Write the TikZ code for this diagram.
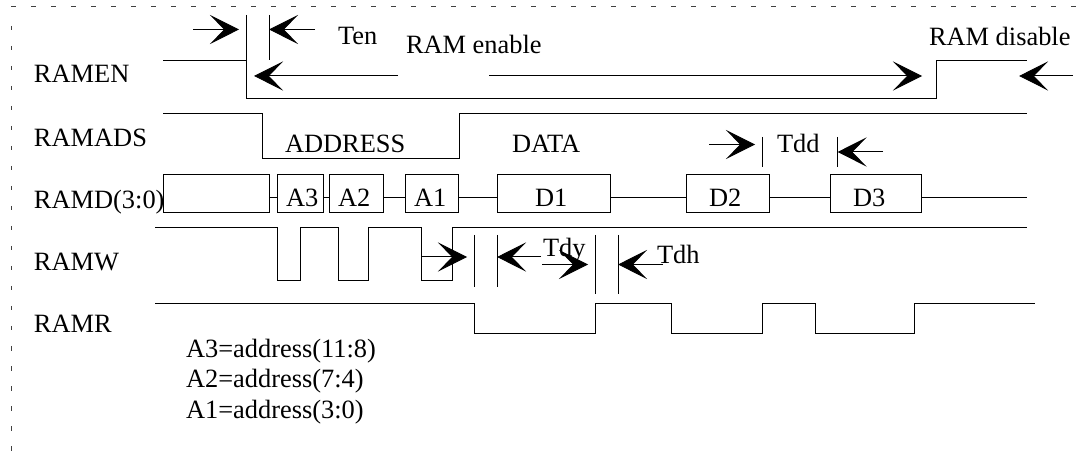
\documentclass[tikz,border=0pt]{standalone}
\usepackage{fontspec}
\setmainfont{Liberation Serif}
\usetikzlibrary{arrows.meta}
\tikzset{
  x=1pt,y=-1pt,
  wave/.style={line width=1pt,draw=black,line join=miter},
  tick/.style={line width=1pt,draw=black},
  dim/.style={line width=1pt,draw=black,-{Stealth[length=29pt,width=29pt,inset=14pt,black]}},
  lab/.style={anchor=base west,inner sep=0pt,outer sep=0pt,font=\fontsize{26.4}{30}\selectfont,text=black},
  busbox/.style={draw=black,line width=1pt,inner sep=0pt,outer sep=0pt,minimum height=38pt,anchor=west},
  busline/.style={draw=black,line width=1pt},
  frame/.style={line width=1pt,draw=black!75,dash pattern=on 4.5pt off 15.5pt},
}
\begin{document}
\begin{tikzpicture}
\useasboundingbox (0,0) rectangle (1088,457);
% dashed frame
\draw[frame] (11,7) -- (1088,7);
\draw[frame] (11,26) -- (11,457);
% labels
\node[lab] (t1) at (34,83) {RAMEN};
\node[lab] (t2) at (34,147) {RAMADS};
\node[lab] (t3) at (34,209) {RAMD(3:0)};
\node[lab] (t4) at (34,271) {RAMW};
\node[lab] (t5) at (34,333) {RAMR};
\node[lab] (t6) at (338,45) {Ten};
\node[lab] (t7) at (406,54) {RAM enable};
\node[lab] (t8) at (929,46) {RAM disable};
\node[lab] (t9) at (285,153) {ADDRESS};
\node[lab] (t10) at (512,153) {DATA};
\node[lab] (t11) at (777,153) {Tdd};
\node[lab] (t12) at (543,257) {Tdy};
\node[lab] (t13) at (657,264) {Tdh};
\node[lab] (a3) at (286,207) {A3};
\node[lab] (a2) at (338,207) {A2};
\node[lab] (a1) at (414,207) {A1};
\node[lab] (d1) at (535,207) {D1};
\node[lab] (d2) at (709,207) {D2};
\node[lab] (d3) at (853,207) {D3};
\node[lab] (n1) at (186,357) {A3=address(11:8)};
\node[lab] (n2) at (186,388) {A2=address(7:4)};
\node[lab] (n3) at (186,418) {A1=address(3:0)};
% waveforms
\draw[wave] (163,61) -- (246.5,61) -- (246.5,98.5) -- (936,98.5) -- (936,61) -- (1027,61);
\draw[wave] (163,114) -- (262,114) -- (262,159) -- (459,159) -- (459,114) -- (1027,114);
\draw[wave] (155,228) -- (277,228) -- (277,281) -- (300,281) -- (300,228) -- (338,228) -- (338,281) -- (368,281) -- (368,228) -- (421,228) -- (421,281) -- (452,281) -- (452,228) -- (1027,228);
\draw[wave] (155,303.5) -- (474,303.5) -- (474,334) -- (595,334) -- (595,303.5) -- (671,303.5) -- (671,334) -- (762,334) -- (762,303.5) -- (815,303.5) -- (815,334) -- (914,334) -- (914,303.5) -- (1035,303.5);
% data bus
\coordinate (by) at (0,197.5);
\node[busbox,minimum width=106pt] (b0) at (163.5,193.5) {};
\node[busbox,minimum width=46pt] (bA3) at (277,193.5) {};
\node[busbox,minimum width=54pt] (bA2) at (329.5,193.5) {};
\node[busbox,minimum width=53pt] (bA1) at (405.5,193.5) {};
\node[busbox,minimum width=113pt] (bD1) at (497,193.5) {};
\node[busbox,minimum width=83.5pt] (bD2) at (686,193.5) {};
\node[busbox,minimum width=91.5pt] (bD3) at (830,193.5) {};
\coordinate (busend) at (1027,197.5);
\draw[busline] (b0.east|-by) -- (bA3.west|-by);
\draw[busline] (bA3.east|-by) -- (bA2.west|-by);
\draw[busline] (bA2.east|-by) -- (bA1.west|-by);
\draw[busline] (bA1.east|-by) -- (bD1.west|-by);
\draw[busline] (bD1.east|-by) -- (bD2.west|-by);
\draw[busline] (bD2.east|-by) -- (bD3.west|-by);
\draw[busline] (bD3.east|-by) -- (busend);
% timing marks
\draw[tick] (246.5,15) -- (246.5,61);
\draw[tick] (269,15) -- (269,60);
\draw[tick] (762,137) -- (762,167);
\draw[tick] (837.5,137) -- (837.5,167);
\draw[tick] (474,235) -- (474,287);
\draw[tick] (497,235) -- (497,287);
\draw[tick] (595,235) -- (595,294);
\draw[tick] (618,235) -- (618,294);
% dimension arrows
\draw[dim] (193,29.5) -- (239,29.5);
\draw[dim] (315,29.5) -- (269,29.5);
\draw[dim] (398,76) -- (254,76);
\draw[dim] (489,76) -- (922,76);
\draw[dim] (1073,76) -- (1019,76);
\draw[dim] (709,144.5) -- (755,144.5);
\draw[dim] (883,152) -- (837.5,152);
\draw[dim] (421,257) -- (467,257);
\draw[dim] (541,257) -- (497,257);
\draw[dim] (542,264.5) -- (588,264.5);
\draw[dim] (663,264.5) -- (618,264.5);
\end{tikzpicture}
\end{document}
